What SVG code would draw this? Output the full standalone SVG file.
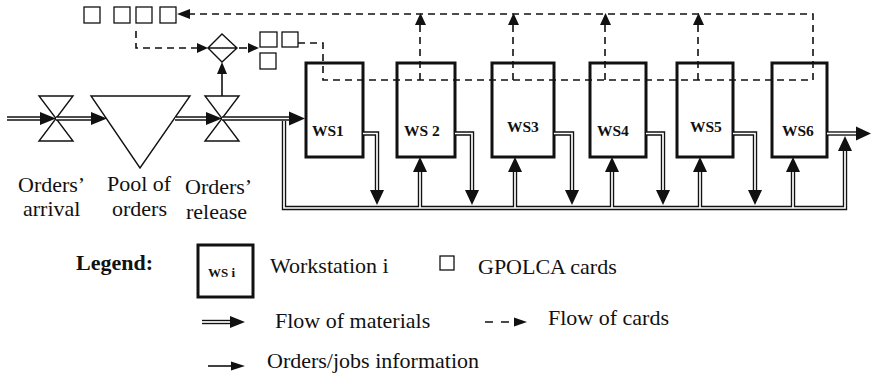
<svg xmlns="http://www.w3.org/2000/svg" xmlns:xlink="http://www.w3.org/1999/xlink" width="873" height="378" viewBox="0 0 873 378" font-family="'Liberation Serif', 'Times New Roman', serif">
<style>
  text { font-family: 'Liberation Serif', 'Times New Roman', serif; fill: #111; }
  .lbl { font-size: 22px; }
  .ws { font-size: 15.5px; font-weight: bold; }
  .box { fill: #fff; stroke: #111; stroke-width: 3; }
  .card { fill: #fff; stroke: #111; stroke-width: 1.3; }
  .shape { fill: none; stroke: #111; stroke-width: 1.4; stroke-linejoin: miter; }
  .dash { fill: none; stroke: #111; stroke-width: 1.6; stroke-dasharray: 7 5; }
  .ah { fill: #111; stroke: none; }
  .thin { fill: none; stroke: #111; stroke-width: 1.6; }
</style>
<defs>
  <g id="matpaths" fill="none">
    <path d="M7,118.5 H44"/>
    <path d="M56,118.5 H94"/>
    <path d="M175,118.5 H210"/>
    <path d="M222,118.5 H292"/>
    <path d="M284,121 V208 H845 V150"/>
    <path d="M363,133.5 H377 V192"/>
    <path d="M455,133.5 H472 V192"/>
    <path d="M554,133.5 H572 V192"/>
    <path d="M646,133.5 H663 V192"/>
    <path d="M733,133.5 H755 V192"/>
    <path d="M827,133.5 H858"/>
    <path d="M420,208 V171"/>
    <path d="M515,208 V171"/>
    <path d="M612,208 V171"/>
    <path d="M700,208 V171"/>
    <path d="M793,208 V171"/>
    <path d="M202,322 H232"/>
  </g>
</defs>

<g id="process-shapes">
  <g id="orders-arrival-valve"><path class="shape" d="M39,96 H73 L39,141 H73 Z"/></g>
  <g id="pool-of-orders"><path class="shape" d="M91,96 H190 L140,168 Z"/></g>
  <g id="orders-release-valve"><path class="shape" d="M205,96 H239 L205,141 H239 Z"/></g>
  <g id="release-decision"><path class="shape" d="M222,34 L237,48 L222,62 L208,48 Z M208,48 H237" fill="#fff"/></g>
</g>

<g id="workstations">
  <g id="ws1"><rect class="box" x="306" y="63" width="57" height="94"/><text class="ws" x="312" y="136">WS1</text></g>
  <g id="ws2"><rect class="box" x="397" y="63" width="58" height="94"/><text class="ws" x="404" y="136">WS 2</text></g>
  <g id="ws3"><rect class="box" x="492" y="63" width="62" height="94"/><text class="ws" x="507" y="132">WS3</text></g>
  <g id="ws4"><rect class="box" x="590" y="63" width="56" height="94"/><text class="ws" x="597" y="136">WS4</text></g>
  <g id="ws5"><rect class="box" x="677" y="63" width="56" height="94"/><text class="ws" x="690" y="132">WS5</text></g>
  <g id="ws6"><rect class="box" x="772" y="63" width="55" height="94"/><text class="ws" x="782" y="136">WS6</text></g>
</g>

<g id="connectors">
  <use xlink:href="#matpaths" stroke="#111" stroke-width="4.4" stroke-linejoin="miter"/>
  <use xlink:href="#matpaths" stroke="#fff" stroke-width="1.7" stroke-linejoin="miter"/>
  <polygon class="ah" points="40,112 56,118.5 40,125"/>
  <polygon class="ah" points="91,112 107,118.5 91,125"/>
  <polygon class="ah" points="206,112 222,118.5 206,125"/>
  <polygon class="ah" points="289,111.5 305,118.5 289,125.5"/>
  <polygon class="ah" points="370,190 384,190 377,205"/>
  <polygon class="ah" points="465,190 479,190 472,205"/>
  <polygon class="ah" points="565,190 579,190 572,205"/>
  <polygon class="ah" points="656,190 670,190 663,205"/>
  <polygon class="ah" points="748,190 762,190 755,205"/>
  <polygon class="ah" points="413,172 427,172 420,157"/>
  <polygon class="ah" points="508,172 522,172 515,157"/>
  <polygon class="ah" points="605,172 619,172 612,157"/>
  <polygon class="ah" points="693,172 707,172 700,157"/>
  <polygon class="ah" points="786,172 800,172 793,157"/>
  <polygon class="ah" points="838,151 852,151 845,136"/>
  <polygon class="ah" points="856,126.5 871,133.5 856,140.5"/>
  <path class="thin" d="M222,96 V72"/>
  <polygon class="ah" points="217,74 227,74 222,62"/>
  <path class="dash" d="M298,43 H323 V80 H813 V14 H190"/>
  <polygon class="ah" points="190,9 190,19 177,14"/>
  <path class="dash" d="M420,80 V25"/>
  <path class="dash" d="M513,80 V25"/>
  <path class="dash" d="M605,80 V25"/>
  <path class="dash" d="M698,80 V25"/>
  <polygon class="ah" points="415,25 426,25 420.5,13"/>
  <polygon class="ah" points="508,25 519,25 513.5,13"/>
  <polygon class="ah" points="600,25 611,25 605.5,13"/>
  <polygon class="ah" points="693,25 704,25 698.5,13"/>
  <path class="dash" d="M136,31 V48 H198"/>
  <polygon class="ah" points="197,43 197,53 208,48"/>
  <path class="thin" d="M239,48 H247"/>
  <polygon class="ah" points="248,43 248,53 259,48"/>
</g>

<g id="cards">
  <rect class="card" x="84" y="7" width="16" height="16"/>
  <rect class="card" x="114" y="7" width="16" height="16"/>
  <rect class="card" x="136" y="7" width="16" height="16"/>
  <rect class="card" x="160" y="7" width="16" height="16"/>
  <rect class="card" x="260" y="32" width="17" height="15"/>
  <rect class="card" x="282" y="32" width="16" height="15"/>
  <rect class="card" x="260" y="53" width="16" height="16"/>
</g>

<g id="labels">
  <text class="lbl" x="18" y="192">Orders’</text>
  <text class="lbl" x="23" y="216">arrival</text>
  <text class="lbl" x="107" y="191">Pool of</text>
  <text class="lbl" x="112" y="216">orders</text>
  <text class="lbl" x="185" y="194">Orders’</text>
  <text class="lbl" x="186" y="219">release</text>
</g>

<g id="legend">
  <text x="76" y="270" style="font-size:22px;font-weight:bold">Legend:</text>
  <rect class="box" x="198" y="245" width="55" height="52"/>
  <text x="208" y="277" style="font-size:13px;font-weight:bold">WS i</text>
  <text class="lbl" x="270" y="273">Workstation i</text>
  <rect class="card" x="440" y="256" width="14" height="14"/>
  <text class="lbl" x="478" y="274">GPOLCA cards</text>
  <polygon class="ah" points="230,316 245,322 230,328"/>
  <text class="lbl" x="275" y="328">Flow of materials</text>
  <path class="thin" d="M485,322 H493 M501,322 H509"/>
  <polygon class="ah" points="514,317.5 527,322 514,326.5"/>
  <text class="lbl" x="548" y="325">Flow of cards</text>
  <path class="thin" d="M208,366 H233"/>
  <polygon class="ah" points="231,361.5 245,366 231,370.5"/>
  <text class="lbl" x="267" y="368">Orders/jobs information</text>
</g>
</svg>
